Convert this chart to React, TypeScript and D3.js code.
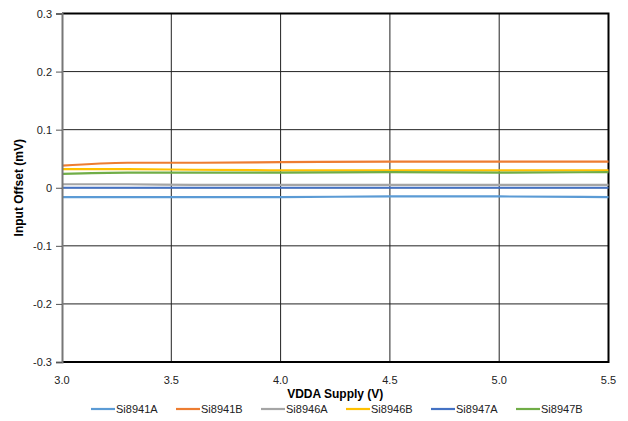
import React, { useEffect, useRef } from 'react';
import * as d3 from 'd3';

const vdda = [3.0, 3.3, 3.6, 4.0, 4.5, 5.0, 5.5];
const seriesNames = ['Si8941A', 'Si8941B', 'Si8946A', 'Si8946B', 'Si8947A', 'Si8947B'];
const seriesColors = ['#5B9BD5', '#ED7D31', '#A5A5A5', '#FFC000', '#4472C4', '#70AD47'];
const si8941A = [-0.016, -0.016, -0.016, -0.016, -0.015, -0.015, -0.016];
const si8941B = [0.038, 0.043, 0.043, 0.044, 0.045, 0.045, 0.045];
const si8946A = [0.006, 0.006, 0.005, 0.005, 0.005, 0.005, 0.005];
const si8946B = [0.032, 0.032, 0.031, 0.030, 0.030, 0.030, 0.030];
const si8947A = [0.0, 0.0, 0.0, 0.0, 0.0, 0.0, 0.0];
const si8947B = [0.024, 0.026, 0.026, 0.026, 0.027, 0.026, 0.027];
const seriesValues = [si8941A, si8941B, si8946A, si8946B, si8947A, si8947B];
const xTicks = [3.0, 3.5, 4.0, 4.5, 5.0, 5.5];
const yTicks = [-0.3, -0.2, -0.1, 0, 0.1, 0.2, 0.3];

const App = () => {
    const ref = useRef<SVGSVGElement>(null);

    useEffect(() => {
        const svg = d3.select(ref.current);
        svg.selectAll('*').remove();
        const font = 'Liberation Sans, Arial, sans-serif';
        const left = 62, right = 608.5, top = 13.5, bottom = 362;

        const x = d3.scaleLinear().domain([3.0, 5.5]).range([left, right]);
        const y = d3.scaleLinear().domain([-0.3, 0.3]).range([bottom, top]);
        const fmt = (v: number) => (v === 0 ? '0' : v.toFixed(1));

        svg.append('rect').attr('width', 628).attr('height', 421).attr('fill', '#fff');

        // grid
        svg.append('g').selectAll('line').data(xTicks.slice(1, -1)).enter().append('line')
            .attr('x1', (d) => x(d)).attr('x2', (d) => x(d))
            .attr('y1', top).attr('y2', bottom)
            .attr('stroke', '#222').attr('stroke-width', 1);
        svg.append('g').selectAll('line').data(yTicks.slice(1, -1)).enter().append('line')
            .attr('x1', left).attr('x2', right)
            .attr('y1', (d) => y(d)).attr('y2', (d) => y(d))
            .attr('stroke', '#222').attr('stroke-width', 1);

        // border
        svg.append('path')
            .attr('d', `M${left},${top}H${right}V${bottom}H${left}`)
            .attr('fill', 'none').attr('stroke', '#000').attr('stroke-width', 2);

        // lines
        const line = d3.line<number>()
            .x((_, i) => x(vdda[i]))
            .y((d) => y(d))
            .curve(d3.curveMonotoneX);
        seriesValues.forEach((vals, i) => {
            svg.append('path').datum(vals)
                .attr('d', line)
                .attr('fill', 'none')
                .attr('stroke', seriesColors[i])
                .attr('stroke-width', 2.2);
        });

        // left axis
        const yAxis = svg.append('g').attr('transform', `translate(${left},0)`)
            .call(d3.axisLeft(y).tickValues(yTicks).tickSize(6).tickFormat((d) => fmt(+d)));
        yAxis.select('.domain').attr('stroke', '#777').attr('stroke-width', 2);
        yAxis.selectAll('.tick line').attr('stroke', '#555');
        yAxis.selectAll('text').attr('font-family', font).attr('font-size', 11).attr('fill', '#222').attr('dx', -1);

        // bottom axis labels
        svg.append('g').selectAll('text').data(xTicks).enter().append('text')
            .attr('x', (d) => x(d)).attr('y', bottom + 22)
            .attr('text-anchor', 'middle')
            .attr('font-family', font).attr('font-size', 11).attr('fill', '#222')
            .text((d) => d.toFixed(1));

        svg.append('text')
            .attr('x', (left + right) / 2).attr('y', 398)
            .attr('text-anchor', 'middle')
            .attr('font-family', font).attr('font-size', 12).attr('font-weight', 'bold')
            .text('VDDA Supply (V)');

        svg.append('text')
            .attr('transform', `translate(23,${(top + bottom) / 2}) rotate(-90)`)
            .attr('text-anchor', 'middle')
            .attr('font-family', font).attr('font-size', 12).attr('font-weight', 'bold')
            .text('Input Offset (mV)');

        // legend
        const legend = svg.append('g').attr('transform', 'translate(91,413)');
        seriesNames.forEach((name, i) => {
            const g = legend.append('g').attr('transform', `translate(${i * 85},0)`);
            g.append('line').attr('x1', 0).attr('x2', 24).attr('y1', -4).attr('y2', -4)
                .attr('stroke', seriesColors[i]).attr('stroke-width', 2.2);
            g.append('text').attr('x', 25).attr('y', 0)
                .attr('font-family', font).attr('font-size', 11).attr('fill', '#222')
                .text(name);
        });
    }, []);

    return <svg ref={ref} width={628} height={421} style={{ display: 'block', position: 'absolute', left: 0, top: 0 }} />;
};

export default App;
